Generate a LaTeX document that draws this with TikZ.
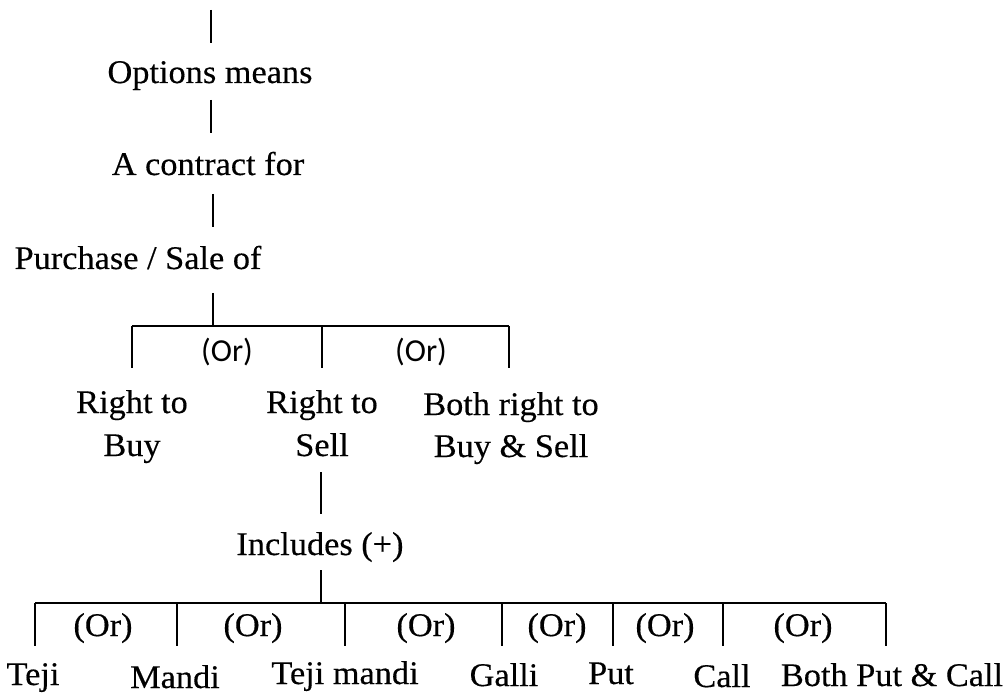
\documentclass[tikz,border=0pt]{standalone}
\usepackage{fontspec}
\setmainfont{Liberation Serif}[FakeStretch=1.04,FakeBold=0.35]
\newfontfamily\orfont{Carlito}
\begin{document}
\begin{tikzpicture}[x=1pt,y=-1pt,
  lbl/.style={anchor=base,inner sep=0pt,font=\fontsize{33}{44}\selectfont,align=center},
  orlbl/.style={anchor=base,inner sep=0pt,font=\orfont\fontsize{32}{38}\selectfont},
  link/.style={line width=1.5pt},
  boldlink/.style={line width=2.4pt}]
\useasboundingbox (0,0) rectangle (1005,695);

% main chain
\node[lbl] (opt) at (210,83) {Options means};
\node[lbl] (con) at (208,175) {A contract for};
\node[lbl] (pur) at (138,269) {Purchase / Sale of};

\coordinate (a0) at (211,10);  \coordinate (a1) at (211,43);
\coordinate (b0) at (211,100); \coordinate (b1) at (211,133);
\coordinate (c0) at (213,194); \coordinate (c1) at (213,227);
\coordinate (d0) at (213,293); \coordinate (d1) at (213,326);
\draw[link] (a0) -- (a1);
\draw[link] (b0) -- (b1);
\draw[link] (c0) -- (c1);
\draw[link] (d0) -- (d1);

% first branching
\coordinate (p1) at (132,326); \coordinate (p2) at (322,326); \coordinate (p3) at (509,326);
\coordinate (q1) at (132,368); \coordinate (q2) at (322,368); \coordinate (q3) at (509,368);
\draw[link] (p1) -- (p3);
\draw[link] (p1) -- (q1);
\draw[link] (p2) -- (q2);
\draw[link] (p3) -- (q3);
\node[orlbl] (or1) at (227,362) {(Or)};
\node[orlbl] (or2) at (421,362) {(Or)};

\node[lbl] (buy1) at (132,413) {Right to};
\node[lbl] (buy2) at (132,456) {Buy};
\node[lbl] (sel1) at (322,413) {Right to};
\node[lbl] (sel2) at (322,456) {Sell};
\node[lbl] (bot1) at (511,415) {Both right to};
\node[lbl] (bot2) at (511,457) {Buy \& Sell};

% includes
\coordinate (e0) at (321,472); \coordinate (e1) at (321,514);
\draw[link] (e0) -- (e1);
\node[lbl] (inc) at (320,555) {Includes (+)};
\coordinate (f0) at (321,570); \coordinate (f1) at (321,603);
\draw[link] (f0) -- (f1);

% second branching
\coordinate (h1) at (35,603);  \coordinate (h7) at (886,603);
\draw[link] (h1) -- (h7);
\foreach \xx/\nm/\st in {35/v1/link,177/v2/link,345/v3/link,502/v4/boldlink,613/v5/link,723/v6/link,886/v7/boldlink}{
  \coordinate (\nm a) at (\xx,603);
  \coordinate (\nm b) at (\xx,646);
  \draw[\st] (\nm a) -- (\nm b);
}
\node[lbl] (o1) at (103,636) {(Or)};
\node[lbl] (o2) at (253,636) {(Or)};
\node[lbl] (o3) at (426,636) {(Or)};
\node[lbl] (o4) at (557,636) {(Or)};
\node[lbl] (o5) at (665,636) {(Or)};
\node[lbl] (o6) at (803,636) {(Or)};

\node[lbl] (teji)  at (33,685)  {Teji};
\node[lbl] (mandi) at (175,688) {Mandi};
\node[lbl] (tm)    at (345,684) {Teji mandi};
\node[lbl] (galli) at (504,686) {Galli};
\node[lbl] (put)   at (611,684) {Put};
\node[lbl] (call)  at (722,687) {Call};
\node[lbl] (bpc)   at (892,686) {Both Put \& Call};
\end{tikzpicture}
\end{document}
